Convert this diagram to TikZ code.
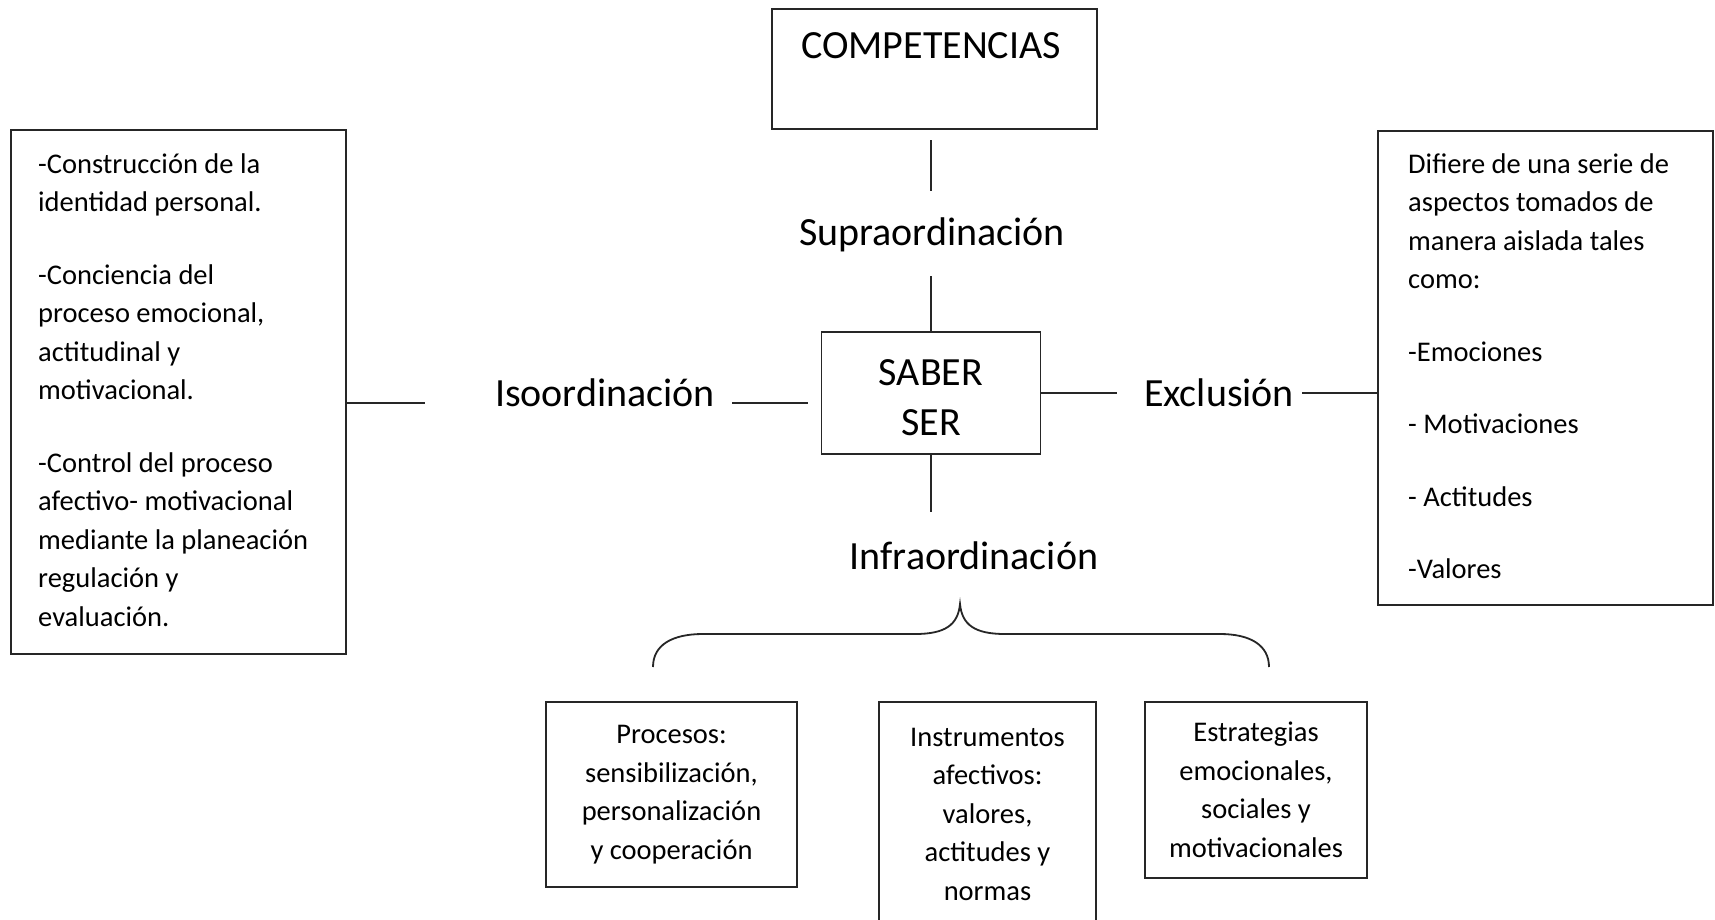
\documentclass[tikz,border=0pt]{standalone}
\usepackage{fontspec}
\setmainfont{Carlito}
\begin{document}
\begin{tikzpicture}[x=1pt,y=-1pt,
  box/.style={draw=black!85, line width=1.8pt, inner sep=0pt},
  conn/.style={draw=black!85, line width=1.8pt},
  big/.style={font=\fontsize{40}{50}\selectfont, inner sep=0pt},
  txt/.style={font=\fontsize{28.5}{38.5}\selectfont, inner sep=0pt}]
\useasboundingbox[fill=white] (0,0) rectangle (1715,919);

% top box
\node[box, minimum width=325pt, minimum height=120pt] (comp) at (934.5,69) {};
\node[big, anchor=base] (comptxt) at (931,58) {COMPETENCIAS};

\node[big, anchor=base] (supra) at (932,245) {Supraordinación};
\node[box, minimum width=219pt, minimum height=122pt] (saber) at (931,393) {};
\node[big, align=center] (sabertxt) at (931,398) {SABER\\SER};
\node[big, anchor=base] (infra) at (974,569) {Infraordinación};
\node[big, anchor=base] (iso) at (605,406) {Isoordinación};
\node[big, anchor=base] (excl) at (1219,406) {Exclusión};

% side boxes
\node[box, minimum width=335pt, minimum height=524pt] (lbox) at (178.5,392) {};
\node[txt, align=left, anchor=west] (ltxt) at (38,390)
 {-Construcción de la\\identidad personal.\\[34pt]-Conciencia del\\proceso emocional,\\actitudinal y\\motivacional.\\[34pt]-Control del proceso\\afectivo- motivacional\\mediante la planeación\\regulación y\\evaluación.};
\node[box, minimum width=335pt, minimum height=474pt] (rbox) at (1545.5,368) {};
\node[txt, align=left, anchor=west] (rtxt) at (1408,366)
 {Difiere de una serie de\\aspectos tomados de\\manera aislada tales\\como:\\[34pt]-Emociones\\[34pt]- Motivaciones\\[34pt]- Actitudes\\[34pt]-Valores};

% bottom boxes
\node[box, txt, align=center, minimum width=251pt, minimum height=185pt] (proc) at (671.5,794.5)
 {Procesos:\\sensibilización,\\personalización\\y cooperación};
\node[box, txt, align=center, minimum width=217pt, minimum height=224pt] (instr) at (987.5,814)
 {Instrumentos\\afectivos:\\valores,\\actitudes y\\normas};
\node[box, txt, align=center, minimum width=222pt, minimum height=176pt] (estr) at (1256,790)
 {Estrategias\\emocionales,\\sociales y\\motivacionales};

% connectors
\coordinate (a1) at (931,140);
\coordinate (a2) at (931,191);
\draw[conn] (a1) -- (a2);
\coordinate (b1) at (931,276);
\draw[conn] (b1) -- (saber.north);
\coordinate (c2) at (931,512);
\draw[conn] (saber.south) -- (c2);
\coordinate (d2) at (1117,393);
\draw[conn] (saber.east) -- (d2);
\coordinate (e1) at (1302,393);
\draw[conn] (e1) -- (e1 -| rbox.west);
\coordinate (f1) at (732,403);
\coordinate (f2) at (808,403);
\draw[conn] (f1) -- (f2);
\coordinate (g2) at (425,403);
\draw[conn] (g2 -| lbox.east) -- (g2);

% brace
\draw[conn] (653,667) .. controls (653,645) and (672,634) .. (703,634) -- (915,634)
  .. controls (945,634) and (958,625) .. (960,604)
  .. controls (962,625) and (975,634) .. (1005,634) -- (1220,634)
  .. controls (1250,634) and (1269,645) .. (1269,667);
\end{tikzpicture}
\end{document}
